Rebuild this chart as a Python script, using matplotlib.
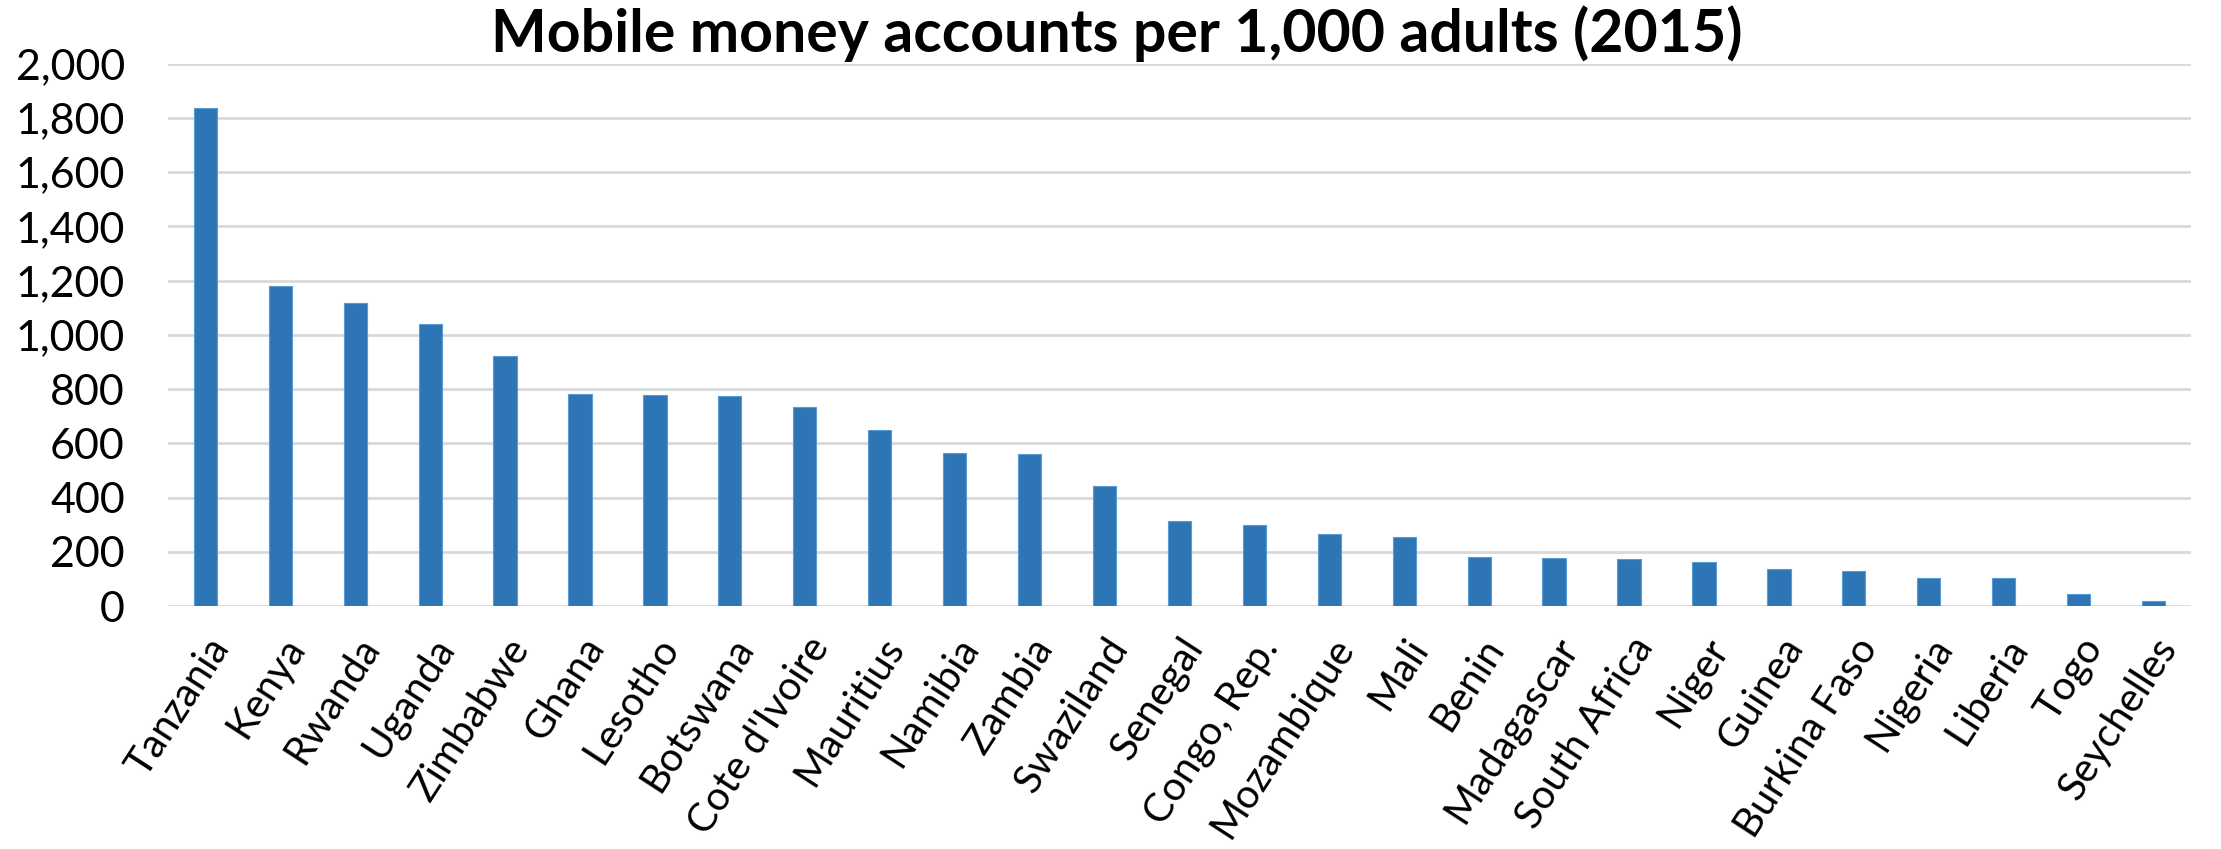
import matplotlib
matplotlib.use("Agg")
import matplotlib.pyplot as plt
from matplotlib.ticker import FuncFormatter

countries = ["Tanzania", "Kenya", "Rwanda", "Uganda", "Zimbabwe", "Ghana", "Lesotho",
             "Botswana", "Cote d'Ivoire", "Mauritius", "Namibia", "Zambia", "Swaziland",
             "Senegal", "Congo, Rep.", "Mozambique", "Mali", "Benin", "Madagascar",
             "South Africa", "Niger", "Guinea", "Burkina Faso", "Nigeria", "Liberia",
             "Togo", "Seychelles"]
accounts = [1835, 1181, 1118, 1039, 923, 781, 778, 773, 733, 650, 566, 560, 443,
            314, 299, 265, 255, 180, 177, 173, 164, 135, 130, 105, 104, 44, 20]
yticks = [0, 200, 400, 600, 800, 1000, 1200, 1400, 1600, 1800, 2000]
title = "Mobile money accounts per 1,000 adults (2015)"

plt.rcParams['font.family'] = ['Lato', 'DejaVu Sans']

fig = plt.figure(figsize=(22.21, 8.49), dpi=100)
ax = fig.add_axes([0.0756, 0.2862, 0.9109, 0.6388])

x = list(range(len(countries)))
ax.bar(x, accounts, width=0.31, color="#2E75B6", edgecolor="#5B9BD5", linewidth=0.8, zorder=3)

ax.set_xlim(-0.5, len(countries) - 0.5)
ax.set_ylim(0, 2000)
ax.set_yticks(yticks)
ax.yaxis.set_major_formatter(FuncFormatter(lambda v, p: f"{int(v):,}"))
ax.grid(axis="y", color="#D9D9D9", linewidth=2, zorder=0)
ax.tick_params(axis="y", length=0, pad=31, labelsize=31)
ax.tick_params(axis="x", length=0, pad=18)
for s in ["top", "right", "left", "bottom"]:
    ax.spines[s].set_visible(False)

ax.set_xticks(x)
ax.set_xticklabels(countries, rotation=57, ha="right", rotation_mode="anchor",
                   fontsize=29)

fig.text(0.503, 0.9388, title, ha="center", va="baseline", fontsize=42.5, fontweight="bold")

fig.savefig("out.png", dpi=100)
